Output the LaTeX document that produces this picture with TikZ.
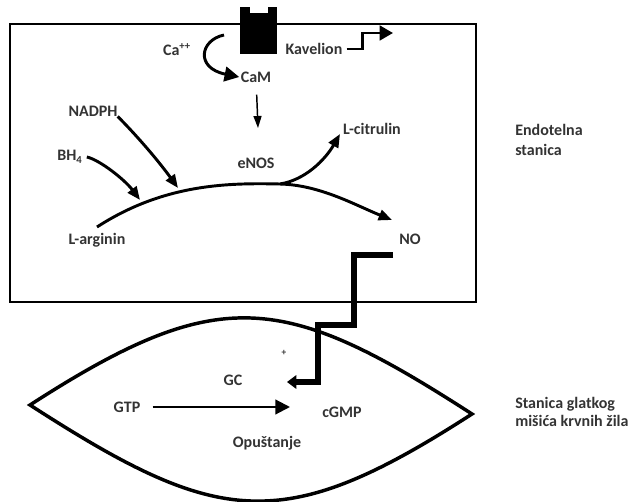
\documentclass[tikz,border=0pt]{standalone}
\usepackage{fontspec}
\setmainfont{Carlito}
\usetikzlibrary{arrows.meta}
\tikzset{
  lbl/.style={inner sep=0pt, text=black!80, font=\bfseries\fontsize{12}{15}\selectfont},
  wall/.style={line width=2pt, line join=miter},
  react/.style={line width=2.2pt, -{Triangle[length=10pt,width=8pt]}},
  signal/.style={line width=4pt, line join=miter, -{Triangle[length=7pt,width=10pt]}},
}
\newcommand{\celllabel}[3] {\node at (#1) (#2) [lbl] {#3};}
\newcommand{\cellarc}[4] {\draw [react] (#1) .. controls (#3) and (#4) .. (#2);}

\begin{document}
\begin{tikzpicture}[x=0.75pt, y=-0.75pt]
\useasboundingbox (0,0) rectangle (633,502);

% endothelial cell and channel
\draw [wall] (10,24) rectangle (476,302);
\fill (240,7) rectangle (277,54);
\fill [white] (250,6) rectangle (268,13);

% smooth muscle cell
\coordinate (lensL) at (30,405);
\coordinate (lensR) at (472,414);
\draw [wall, line width=2.6pt] (lensL) .. controls (219,283) and (283,292) .. (lensR)
  .. controls (283,536) and (219,527) .. cycle;

% labels
\celllabel {177,50}{ca}{Ca\textsuperscript{++}};
\celllabel {256,77}{cam}{CaM};
\celllabel {314,49}{kav}{Kavelion};
\celllabel {93,111}{nadph}{NADPH};
\celllabel {70,157}{bh}{BH\textsubscript{4}};
\celllabel {97,240}{arg}{L-arginin};
\celllabel {256,163}{enos}{eNOS};
\celllabel {372,129}{cit}{L-citrulin};
\celllabel {410,239}{no}{NO};
\node at (284,353) (plus) [lbl, font=\bfseries\fontsize{7}{8}\selectfont] {+};
\celllabel {233,380}{gc}{GC};
\celllabel {127,407}{gtp}{GTP};
\celllabel {342,412}{cgmp}{cGMP};
\celllabel {267,443}{opu}{Opuštanje};
\node at (515,140) (endo) [lbl, anchor=west, align=left] {Endotelna\\stanica};
\node at (515,412) (smc) [lbl, anchor=west, align=left, font=\bfseries\fontsize{12}{14}\selectfont] {Stanica glatkog\\mišića krvnih žila};

% free ends
\coordinate (caIn) at (224,35);
\coordinate (argOut) at (97,227);
\coordinate (fork) at (280,184);
\coordinate (citIn) at (340,134);
\coordinate (noIn) at (392,220);
\coordinate (nadphOn) at (178,188);
\coordinate (bhOn) at (140,200);
\coordinate (enosIn) at (258,128);
\coordinate (kavOut) at (393,33);
\coordinate (noOut) at (393,255);
\coordinate (gcIn) at (287,382);
\coordinate (gtpEnd) at (290,407);

% reactions
\draw [react, -{Triangle[length=11pt,width=11pt]}] (caIn) .. controls (200,40) and (195,68) .. ([xshift=-1pt]cam.west);
\draw [line width=1.1pt, -{Triangle[length=9pt,width=6pt]}, shorten <=9pt] (cam) -- (enosIn);
\draw [line width=2pt, -{Triangle[length=10pt,width=11pt]}] ([xshift=3pt]kav.east) -- ++(16,0) |- (kavOut);
\cellarc {nadph.south east}{nadphOn}{140,139}{160,163};
\cellarc {[xshift=3pt]bh.east}{bhOn}{100,160}{125,180};
\draw [react] (argOut) .. controls (165,183) and (230,183) .. (fork)
  .. controls (320,185) and (355,205) .. (noIn);
\cellarc {fork}{citIn}{305,180}{325,160};

% NO signal into the muscle cell
\draw [signal] (noOut) -| ++(-39,70) -| ++(-36,57) -- (gcIn);
\draw [line width=1.6pt, -{Triangle[length=11pt,width=11pt]}, shorten <=9pt] (gtp) -- (gtpEnd);

\end{tikzpicture}
\end{document}
